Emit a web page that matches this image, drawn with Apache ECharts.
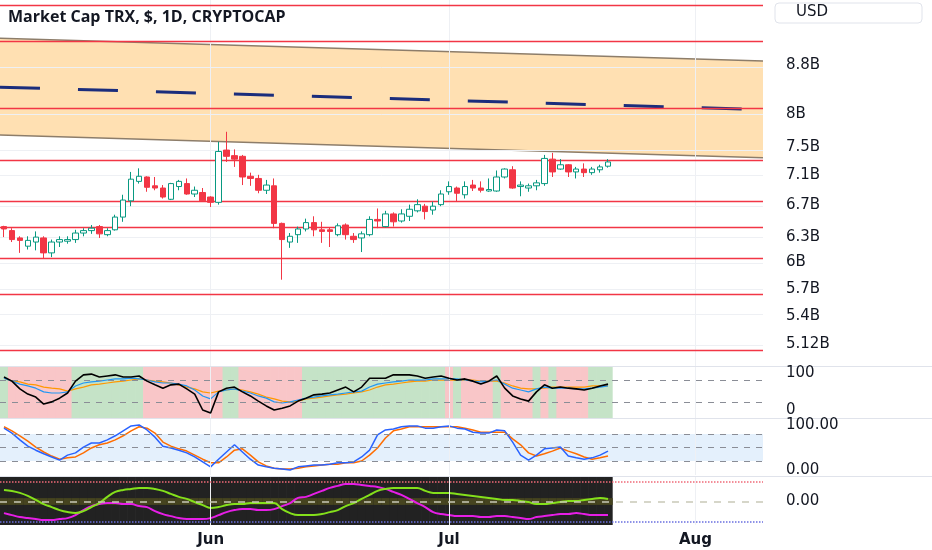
<!DOCTYPE html>
<html><head><meta charset="utf-8">
<script src="https://cdn.jsdelivr.net/npm/echarts@6/dist/echarts.min.js"></script>
<style>html,body{margin:0;padding:0;background:#fff}#c{width:932px;height:550px}</style>
</head><body><div id="c"></div>
<script>
// ---------- data ----------
const startDate = [2023, 4, 6];   // 6 May 2023 (month is 0-based)
const dayCount = 96;               // visible day slots on the time axis
const monthNames = ['Jan','Feb','Mar','Apr','May','Jun','Jul','Aug','Sep','Oct','Nov','Dec'];
const monthMarks = ['2023-06-01', '2023-07-01', '2023-08-01'];

// daily candles, billions USD: [open, close, low, high]
const ohlc = [
 [6.43,6.40,6.30,6.44],[6.38,6.27,6.24,6.41],[6.29,6.26,6.11,6.31],[6.19,6.26,6.15,6.31],[6.24,6.30,6.14,6.37],
 [6.29,6.11,6.05,6.31],[6.11,6.24,6.06,6.27],[6.24,6.27,6.18,6.31],[6.25,6.27,6.22,6.31],[6.27,6.35,6.23,6.39],
 [6.35,6.38,6.31,6.41],[6.38,6.41,6.34,6.45],[6.43,6.34,6.29,6.45],[6.33,6.38,6.31,6.41],[6.39,6.55,6.38,6.58],
 [6.55,6.77,6.49,6.84],[6.76,7.05,6.69,7.15],[7.02,7.09,6.99,7.20],[7.08,6.94,6.88,7.09],[6.96,6.93,6.90,7.08],
 [6.93,6.81,6.79,6.97],[6.78,6.99,6.77,7.00],[6.95,7.02,6.90,7.04],[6.99,6.85,6.84,7.06],[6.85,6.90,6.81,6.95],
 [6.87,6.76,6.75,6.93],[6.81,6.74,6.68,6.82],[6.74,7.44,6.71,7.58],[7.46,7.37,7.29,7.73],[7.38,7.33,7.22,7.47],
 [7.37,7.08,6.97,7.39],[7.09,7.06,6.96,7.14],[7.06,6.90,6.86,7.11],[6.90,6.97,6.85,7.04],[6.96,6.47,6.41,7.06],
 [6.47,6.27,5.80,6.48],[6.24,6.31,6.17,6.35],[6.33,6.40,6.23,6.43],[6.40,6.48,6.37,6.53],[6.48,6.39,6.31,6.56],
 [6.39,6.37,6.23,6.49],[6.39,6.37,6.18,6.42],[6.33,6.44,6.31,6.47],[6.45,6.33,6.27,6.47],[6.31,6.27,6.23,6.35],
 [6.29,6.34,6.12,6.37],[6.33,6.52,6.31,6.56],[6.52,6.50,6.41,6.66],[6.43,6.59,6.42,6.63],[6.59,6.49,6.43,6.61],
 [6.50,6.59,6.48,6.65],[6.56,6.65,6.50,6.71],[6.63,6.71,6.61,6.78],[6.69,6.62,6.52,6.72],[6.64,6.69,6.58,6.75],
 [6.71,6.85,6.69,6.90],[6.88,6.95,6.84,7.02],[6.93,6.86,6.75,6.95],[6.84,6.95,6.79,7.02],[6.97,6.93,6.89,7.04],
 [6.93,6.90,6.87,7.02],[6.89,6.91,6.88,7.06],[6.89,7.08,6.88,7.17],[7.08,7.19,7.06,7.20],[7.18,6.93,6.92,7.23],
 [6.95,6.97,6.82,7.02],[6.93,6.96,6.88,6.99],[6.96,7.00,6.90,7.04],[6.99,7.34,6.96,7.39],[7.33,7.15,7.08,7.42],
 [7.19,7.25,7.18,7.33],[7.25,7.15,7.08,7.26],[7.15,7.19,7.06,7.22],[7.19,7.14,7.08,7.27],[7.14,7.19,7.11,7.22],
 [7.18,7.22,7.14,7.25],[7.23,7.29,7.21,7.33]
];
const countdownText = '07:18:59';

// price scale (log) range and tick labels
const priceMin = 4.905, priceMax = 9.984;
const priceTicks = [8.8, 8, 7.5, 7.1, 6.7, 6.3, 6, 5.7, 5.4, 5.12];
const priceTickLabels = ['8.8B','8B','7.5B','7.1B','6.7B','6.3B','6B','5.7B','5.4B','5.12B'];

// drawn horizontal levels and the descending channel (start, end)
const levels = [9.89, 9.24, 8.11, 7.35, 6.77, 6.40, 6.06, 5.66, 5.04];
const channelUpper = [9.27, 8.87];
const channelLower = [7.68, 7.35];
const channelMid = [8.43, 8.07];

// pane 1 oscillator (1 = green zone, 0 = red zone)
const p1State = [1,0,0,0,0,0,0,0,0,1,1,1,1,1,1,1,1,1,0,0,0,0,0,0,0,0,0,0,1,1,0,0,0,0,0,0,0,0,
 1,1,1,1,1,1,1,1,1,1,1,1,1,1,1,1,1,1,0,1,0,0,0,0,1,0,0,0,0,1,0,1,0,0,0,0,1,1,1];
const p1Black = [89,78,57,43,35,16,22,32,46,78,95,97,89,92,95,89,89,92,78,68,59,68,70,57,43,0,-8,49,59,62,
 49,38,24,11,0,5,11,24,32,41,43,46,54,62,49,62,86,86,86,95,95,95,92,86,89,92,86,81,84,78,70,78,92,59,38,30,24,49,68,59,62,59,57,54,59,65,70];
const p1Blue = [86,78,70,65,59,49,46,46,49,65,73,76,78,81,84,84,86,84,81,76,73,73,70,65,54,38,30,49,54,57,
 51,46,38,32,22,19,22,27,32,35,38,41,43,46,49,51,62,70,73,76,78,81,81,81,84,84,84,84,81,78,76,78,81,70,59,54,49,57,62,59,59,59,57,57,59,62,65];
const p1Orange = [86,78,76,70,68,62,59,57,51,57,62,68,70,73,76,78,81,84,81,78,76,73,68,62,57,49,46,51,54,57,
 54,49,43,35,30,24,22,24,30,32,35,38,41,43,46,49,54,62,68,70,73,76,78,78,81,81,81,81,81,81,78,78,78,73,65,59,57,57,59,62,62,62,62,62,65,65,65];
const p1Levels = [80, 20];

// pane 2 stochastic
const stochK = [93,82,67,53,44,36,29,22,33,38,51,60,60,67,76,87,98,100,89,73,53,49,44,38,29,18,7,24,40,56,
 40,24,11,7,4,2,0,7,9,11,11,13,16,16,18,29,44,78,89,91,96,98,98,93,93,96,98,93,91,84,82,82,89,87,62,33,22,33,47,49,51,31,27,24,27,33,42];
const stochD = [96,87,76,64,51,40,31,24,27,29,38,49,56,60,67,76,87,96,93,82,62,53,47,42,33,24,16,16,29,44,
 47,33,18,9,4,2,2,4,7,9,11,13,13,16,16,20,33,49,71,87,91,96,96,96,96,96,96,96,93,89,84,84,84,84,69,56,38,31,36,42,49,42,36,29,24,27,31];
const p2Levels = [80, 50, 20];

// pane 3 oscillator
const p3Green = [0.58,0.53,0.43,0.28,0.08,-0.13,-0.28,-0.43,-0.53,-0.58,-0.48,-0.28,-0.08,0.23,0.48,0.58,0.63,0.68,0.68,0.63,
 0.53,0.38,0.23,0.13,-0.03,-0.18,-0.33,-0.28,-0.18,-0.13,-0.13,-0.08,-0.08,-0.08,-0.08,-0.38,-0.58,-0.68,-0.68,-0.68,
 -0.63,-0.53,-0.43,-0.23,-0.08,0.13,0.33,0.53,0.63,0.68,0.68,0.68,0.68,0.53,0.43,0.43,0.43,0.38,0.33,0.28,
 0.23,0.18,0.13,0.08,0.08,0.03,-0.03,-0.13,-0.13,-0.08,-0.03,0.03,0.03,0.08,0.13,0.18,0.13];
const p3Magenta = [-0.58,-0.68,-0.78,-0.83,-0.88,-0.93,-0.93,-0.88,-0.83,-0.68,-0.43,-0.23,-0.13,-0.08,-0.08,-0.13,-0.13,-0.23,-0.28,-0.48,
 -0.63,-0.73,-0.83,-0.88,-0.88,-0.88,-0.83,-0.68,-0.53,-0.43,-0.38,-0.38,-0.43,-0.43,-0.38,-0.23,-0.08,0.18,0.23,0.38,
 0.53,0.68,0.78,0.88,0.88,0.83,0.78,0.73,0.63,0.48,0.33,0.13,-0.08,-0.28,-0.53,-0.63,-0.68,-0.73,-0.73,-0.73,
 -0.78,-0.78,-0.73,-0.73,-0.78,-0.83,-0.88,-0.78,-0.73,-0.68,-0.63,-0.63,-0.58,-0.63,-0.68,-0.68,-0.68];
const p3Upper = 1, p3Lower = -1, p3Band = 0.17;

// ---------- build ----------
const categories = [];
{
  const t0 = Date.UTC(startDate[0], startDate[1], startDate[2]);
  for (let i = 0; i < dayCount; i++) categories.push(new Date(t0 + i * 86400000).toISOString().slice(0, 10));
}
const L = Math.log;
const FONT = "'DejaVu Sans', sans-serif";
const TXT = '#131722';
const GREEN = '#089981', RED = '#f23645';
const P1 = {min: -21.6, max: 116.2}, P2 = {min: -11.1, max: 113.3}, P3 = {min: -1.175, max: 1.225};

const chart = echarts.init(document.getElementById('c'), null, {renderer: 'canvas'});

const grids = [
  {left: 0, right: 169, top: 0, height: 366},
  {left: 0, right: 169, top: 367, height: 51},
  {left: 0, right: 169, top: 419, height: 56},
  {left: 0, right: 169, top: 477, height: 48}
];
const xAxes = [0, 1, 2, 3].map(g => ({
  type: 'category', gridIndex: g, data: categories, boundaryGap: true,
  axisLine: {show: false}, axisTick: {show: false}, splitLine: {show: false},
  axisLabel: g === 3 ? {
    show: true, interval: (i, v) => v.endsWith('-01'),
    formatter: v => monthNames[+v.slice(5, 7) - 1],
    color: TXT, fontWeight: 'bold', fontSize: 15, margin: 8, fontFamily: FONT
  } : {show: false}
}));
xAxes.push({type: 'value', gridIndex: 0, min: 0, max: 1, show: false});

const lab = {color: TXT, fontSize: 15, margin: 23, fontFamily: FONT};
const yBase = {type: 'value', position: 'right', axisLine: {show: false}, axisTick: {show: false}, splitLine: {show: false}};
const yAxes = [
  Object.assign({}, yBase, {gridIndex: 0, min: L(priceMin), max: L(priceMax),
    axisLabel: Object.assign({}, lab, {customValues: priceTicks.map(L), formatter: v => {
      let k = 0, b = 1e9;
      priceTicks.forEach((t, j) => { const d = Math.abs(L(t) - v); if (d < b) { b = d; k = j; } });
      return priceTickLabels[k];
    }})}),
  Object.assign({}, yBase, {gridIndex: 1, min: P1.min, max: P1.max,
    axisLabel: Object.assign({}, lab, {customValues: [0, 100], formatter: v => String(Math.round(v))})}),
  Object.assign({}, yBase, {gridIndex: 2, min: P2.min, max: P2.max,
    axisLabel: Object.assign({}, lab, {customValues: [0, 100], formatter: v => v.toFixed(2)})}),
  Object.assign({}, yBase, {gridIndex: 3, min: P3.min, max: P3.max,
    axisLabel: Object.assign({}, lab, {customValues: [0], formatter: v => Math.abs(v).toFixed(2)})})
];

const closesLn = ohlc.map(d => L(d[1]));
const faint = '#eef0f4';
function helper(g, data, markLine, z, markArea) {
  const s = {type: 'line', xAxisIndex: g, yAxisIndex: g, data: data, symbol: 'none', silent: true,
    lineStyle: {opacity: 0}, z: z, animation: false};
  if (markLine) s.markLine = markLine;
  if (markArea) s.markArea = markArea;
  return s;
}
function mline(items, color, type, width) {
  const ls = {color: color, type: type, width: width, opacity: 1};
  return {symbol: ['none', 'none'], silent: true, label: {show: false}, animation: false,
    emphasis: {disabled: true}, lineStyle: ls,
    data: items.map(it => Object.assign({lineStyle: ls}, it))};
}
function bgRenderer(pane, colorOf, bandHalf, bandColor) {
  return (params, api) => {
    const i = api.value(0);
    const a = api.coord([i, pane.max]), b = api.coord([i, pane.min]);
    const w = api.size([1, 0])[0];
    const children = [{type: 'rect', shape: {x: a[0] - w / 2, y: a[1], width: w + 0.7, height: b[1] - a[1]},
      style: {fill: colorOf(api.value(1))}}];
    if (bandHalf) {
      const c = api.coord([i, bandHalf]), d = api.coord([i, -bandHalf]);
      children.push({type: 'rect', shape: {x: a[0] - w / 2, y: c[1], width: w + 0.7, height: d[1] - c[1]},
        style: {fill: bandColor}});
    }
    return {type: 'group', children: children};
  };
}

const series = [
  // main pane: faint grid
  helper(0, closesLn, mline(monthMarks.map(m => ({xAxis: m})).concat(priceTicks.map(t => ({yAxis: L(t)}))), faint, 'solid', 1), 0),
  // channel fill
  {type: 'custom', xAxisIndex: 4, yAxisIndex: 0, z: 1, silent: true, animation: false, data: [[0.5, L(8)]],
    renderItem: (p, api) => ({type: 'polygon', shape: {points: [
      api.coord([0, L(channelUpper[0])]), api.coord([1, L(channelUpper[1])]),
      api.coord([1, L(channelLower[1])]), api.coord([0, L(channelLower[0])])]},
      style: {fill: 'rgba(255,152,0,0.3)'}})},
  // horizontal levels
  helper(0, closesLn, mline(levels.map(v => ({yAxis: L(v)})), '#f23645', 'solid', 1.3), 2),
  {type: 'line', xAxisIndex: 4, yAxisIndex: 0, z: 3, silent: true, symbol: 'none', animation: false,
    data: [[0, L(channelLower[0])], [1, L(channelLower[1])]], lineStyle: {color: '#8d7d6a', width: 1.5}},
  {type: 'line', xAxisIndex: 4, yAxisIndex: 0, z: 3, silent: true, symbol: 'none', animation: false,
    data: [[0, L(channelUpper[0])], [1, L(channelUpper[1])]], lineStyle: {color: '#8d7d6a', width: 1.5}},
  {type: 'line', xAxisIndex: 4, yAxisIndex: 0, z: 3, silent: true, symbol: 'none', animation: false,
    data: [[0, L(channelMid[0])], [1, L(channelMid[1])]], lineStyle: {color: '#1b2d7c', width: 3, type: [40, 38]}},
  // candles
  {type: 'candlestick', xAxisIndex: 0, yAxisIndex: 0, z: 5, barWidth: 6, animation: false,
    data: ohlc.map(d => d.map(L)),
    itemStyle: {color: '#ffffff', color0: RED, borderColor: GREEN, borderColor0: RED, borderWidth: 1},
    markLine: {symbol: ['none', 'none'], silent: true, animation: false, lineStyle: {opacity: 0},
      label: {show: true, position: 'end', distance: 1, formatter: countdownText, color: '#ffffff',
        backgroundColor: GREEN, fontSize: 15, fontFamily: FONT, padding: [3, 18, 2, 20], width: 119, borderRadius: 2},
      data: [{yAxis: closesLn[closesLn.length - 1]}]}},

  // pane 1
  helper(1, p1Black, mline(monthMarks.map(m => ({xAxis: m})), faint, 'solid', 1), 0),
  {type: 'custom', xAxisIndex: 1, yAxisIndex: 1, z: 1, silent: true, animation: false,
    data: p1State.map((s, i) => [i, s]), renderItem: bgRenderer(P1, s => s ? '#c5e3c7' : '#f9c6c8')},
  helper(1, p1Black, mline(p1Levels.map(v => ({yAxis: v})), '#8a8d96', [6, 6], 1), 2),
  {type: 'line', xAxisIndex: 1, yAxisIndex: 1, z: 3, data: p1Orange, symbol: 'none', silent: true, animation: false,
    lineStyle: {color: '#ff9800', width: 1.2}},
  {type: 'line', xAxisIndex: 1, yAxisIndex: 1, z: 4, data: p1Blue, symbol: 'none', silent: true, animation: false,
    lineStyle: {color: '#2196f3', width: 1.2}},
  {type: 'line', xAxisIndex: 1, yAxisIndex: 1, z: 5, data: p1Black, symbol: 'none', silent: true, animation: false,
    lineStyle: {color: '#000000', width: 1.6}},

  // pane 2
  helper(2, stochK, mline(monthMarks.map(m => ({xAxis: m})), faint, 'solid', 1), 0,
    {silent: true, itemStyle: {color: '#e4f0fc'}, data: [[{yAxis: 20}, {yAxis: 80}]]}),
  helper(2, stochK, mline(p2Levels.map(v => ({yAxis: v})), '#8a8d96', [6, 6], 1), 2),
  {type: 'line', xAxisIndex: 2, yAxisIndex: 2, z: 3, data: stochD, symbol: 'none', silent: true, animation: false,
    lineStyle: {color: '#ff6d00', width: 1.5}},
  {type: 'line', xAxisIndex: 2, yAxisIndex: 2, z: 4, data: stochK, symbol: 'none', silent: true, animation: false,
    lineStyle: {color: '#2962ff', width: 1.5}},

  // pane 3
  helper(3, p3Green, mline(monthMarks.map(m => ({xAxis: m})), faint, 'solid', 1), 0),
  {type: 'custom', xAxisIndex: 3, yAxisIndex: 3, z: 1, silent: true, animation: false,
    data: p3Green.map((v, i) => [i, 1]), renderItem: bgRenderer(P3, () => '#222222', p3Band, '#46441f')},
  helper(3, p3Green, mline([{yAxis: p3Upper}], '#f06a78', 'dotted', 1.5), 2),
  helper(3, p3Green, mline([{yAxis: p3Lower}], '#6a6fe0', 'dotted', 1.5), 2),
  helper(3, p3Green, mline([{yAxis: 0}], '#c9c9b8', [7, 7], 1.5), 2),
  {type: 'line', xAxisIndex: 3, yAxisIndex: 3, z: 3, data: p3Magenta, symbol: 'none', smooth: 0.4, silent: true, animation: false,
    lineStyle: {color: '#e61ee6', width: 2}},
  {type: 'line', xAxisIndex: 3, yAxisIndex: 3, z: 4, data: p3Green, symbol: 'none', smooth: 0.4, silent: true, animation: false,
    lineStyle: {color: '#84e01b', width: 2}}
];

chart.setOption({
  animation: false,
  backgroundColor: '#ffffff',
  title: {text: 'Market Cap TRX, $, 1D, CRYPTOCAP', left: 3, top: 4,
    textStyle: {fontSize: 16, fontWeight: 'bold', color: TXT, fontFamily: "'Open Sans', sans-serif"}},
  grid: grids,
  xAxis: xAxes,
  yAxis: yAxes,
  series: series,
  graphic: [
    {type: 'line', z: 0, zlevel: 0, silent: true, shape: {x1: 0, y1: 366.5, x2: 932, y2: 366.5}, style: {stroke: '#e0e3eb', lineWidth: 1}},
    {type: 'line', z: 0, zlevel: 0, silent: true, shape: {x1: 0, y1: 418.5, x2: 932, y2: 418.5}, style: {stroke: '#e0e3eb', lineWidth: 1}},
    {type: 'line', z: 0, zlevel: 0, silent: true, shape: {x1: 0, y1: 476.5, x2: 932, y2: 476.5}, style: {stroke: '#e0e3eb', lineWidth: 1}},
    {type: 'rect', z: 50, silent: true, shape: {x: 775, y: 3, width: 147, height: 20, r: 4}, style: {fill: '#ffffff', stroke: '#e0e3eb'}},
    {type: 'text', z: 51, silent: true, left: 796, top: 5, style: {text: 'USD', fill: TXT, font: "15px 'DejaVu Sans', sans-serif"}}
  ]
});
</script>
</body></html>
